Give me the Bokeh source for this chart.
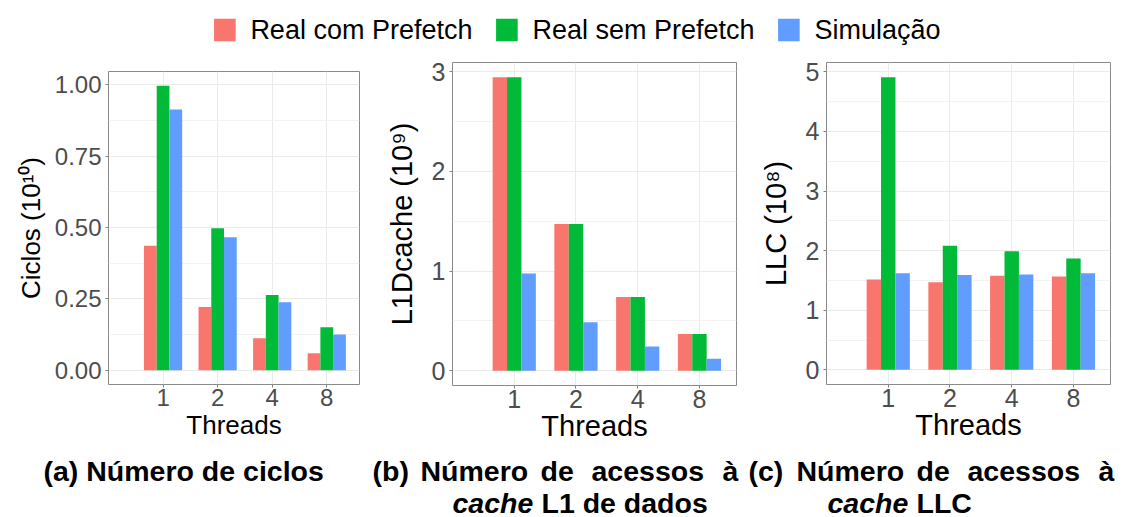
from bokeh.plotting import figure
from bokeh.layouts import column, row
from bokeh.models import Range1d, FixedTicker, PrintfTickFormatter, Legend, LegendItem
from bokeh.core.properties import value
from bokeh.embed import file_html
from bokeh.resources import INLINE

# ---------------- data ----------------
threads = ["1", "2", "4", "8"]
series = ["Real com Prefetch", "Real sem Prefetch", "Simulação"]
colors = ["#F8766D", "#00BA38", "#619CFF"]

ciclos_com = [0.436, 0.222, 0.112, 0.060]
ciclos_sem = [0.997, 0.498, 0.264, 0.151]
ciclos_sim = [0.914, 0.466, 0.238, 0.125]

l1_com = [2.945, 1.473, 0.740, 0.370]
l1_sem = [2.945, 1.473, 0.740, 0.370]
l1_sim = [0.977, 0.487, 0.243, 0.120]

llc_com = [1.516, 1.470, 1.580, 1.567]
llc_sem = [4.910, 2.080, 1.990, 1.870]
llc_sim = [1.620, 1.590, 1.600, 1.620]

ticks_a = [0, 0.25, 0.5, 0.75, 1.0]
minor_a = [0.125, 0.375, 0.625, 0.875]
ticks_b = [0, 1, 2, 3]
minor_b = [0.5, 1.5, 2.5]
ticks_c = [0, 1, 2, 3, 4, 5]
minor_c = [0.5, 1.5, 2.5, 3.5, 4.5]

FONT = "Liberation Sans"
POS = list(range(1, len(threads) + 1))
BW = 0.7 / len(series)


def panel(vals, ylabel, yticks, yminor, fmt, width, height, bl, br, bt, bb,
          tick_fs, title_fs, x_title_standoff, y_title_standoff):
    ymax = max(max(v) for v in vals)
    pad = 0.05 * ymax
    p = figure(width=width, height=height, x_range=Range1d(0, 4.6),
               y_range=Range1d(-pad, ymax + pad), title=None,
               output_backend="svg", toolbar_location=None,
               min_border_left=bl, min_border_right=br,
               min_border_top=bt, min_border_bottom=bb)
    for k, (v, c) in enumerate(zip(vals, colors)):
        xs = [x + (k - 1) * BW for x in POS]
        p.vbar(x=xs, top=v, bottom=0, width=BW, fill_color=c, line_color=None)
    p.xaxis.ticker = FixedTicker(ticks=POS)
    p.xaxis.major_label_overrides = {i: t for i, t in zip(POS, threads)}
    p.xaxis.axis_label = "Threads"
    p.yaxis.ticker = FixedTicker(ticks=yticks, minor_ticks=yminor)
    p.yaxis.formatter = PrintfTickFormatter(format=fmt)
    p.yaxis.axis_label = ylabel
    for ax in p.axis:
        ax.axis_line_color = None
        ax.major_tick_line_color = "#7F7F7F"
        ax.major_tick_out = 3
        ax.major_tick_in = 0
        ax.minor_tick_line_color = None
        ax.major_label_text_font = FONT
        ax.major_label_text_font_size = f"{tick_fs}px"
        ax.major_label_text_color = "#4D4D4D"
        ax.axis_label_text_font = FONT
        ax.axis_label_text_font_style = "normal"
        ax.axis_label_text_font_size = f"{title_fs}px"
        ax.axis_label_text_color = "black"
    p.xaxis.major_label_standoff = 1
    p.yaxis.major_label_standoff = 3
    p.xaxis.axis_label_standoff = x_title_standoff
    p.yaxis.axis_label_standoff = y_title_standoff
    p.xgrid.grid_line_color = "#EBEBEB"
    p.ygrid.grid_line_color = "#EBEBEB"
    p.ygrid.minor_grid_line_color = "#F3F3F3"
    p.outline_line_color = "#8A8A8A"
    p.outline_line_width = 1
    p.background_fill_color = "white"
    p.border_fill_color = "white"
    return p


PH = 397
p1 = panel([ciclos_com, ciclos_sem, ciclos_sim], "Ciclos (10¹⁰)", ticks_a, minor_a, "%.2f",
           380, PH, 108, 21, 19, 65, 24, 26, 1, 6)
p2 = panel([l1_com, l1_sem, l1_sim], "L1Dcache (10⁹)", ticks_b, minor_b, "%d",
           372, PH, 72, 16, 10, 64, 25, 29, -1, 11)
p3 = panel([llc_com, llc_sem, llc_sim], "LLC (10⁸)", ticks_c, minor_c, "%d",
           372, PH, 74, 14, 10, 65, 25, 29, -1, 11)

# ---------------- legend ----------------
lf = figure(width=1124, height=52, x_range=Range1d(-101, -100), y_range=Range1d(0, 1),
            title=None, output_backend="svg", toolbar_location=None,
            x_axis_location=None, y_axis_location=None,
            min_border_left=27, min_border_right=0, min_border_top=7, min_border_bottom=0)
lf.grid.visible = False
lf.outline_line_color = None
items = []
for k, (s, c, v) in enumerate(zip(series, colors, [ciclos_com, ciclos_sem, ciclos_sim])):
    xs = [x + (k - 1) * BW for x in POS]
    r = lf.vbar(x=xs, top=v, width=BW, fill_color=c, line_color=None)
    items.append(LegendItem(label=s, renderers=[r]))
leg = Legend(items=items, orientation="horizontal", location="center",
             glyph_width=27, glyph_height=28, label_standoff=13, spacing=20,
             padding=0, margin=0, border_line_color=None, background_fill_alpha=0,
             label_text_font=FONT, label_text_font_size="27px", label_height=28,
             label_text_color="black")
lf.add_layout(leg)

# ---------------- captions ----------------
CH = 68
cf = figure(width=1124, height=CH, x_range=Range1d(0, 1124), y_range=Range1d(CH, 0),
            title=None, output_backend="svg", toolbar_location=None,
            x_axis_location=None, y_axis_location=None,
            min_border_left=0, min_border_right=0, min_border_top=0, min_border_bottom=0)
cf.grid.visible = False
cf.outline_line_color = None

LINE1_Y = 21
LINE2_Y = 53
cap_line1_words = ["(a) Número de ciclos",
                   "(b)", "Número", "de", "acessos", "à",
                   "(c)", "Número", "de", "acessos", "à"]
cap_line1_x = [43, 372, 420, 540, 591, 722, 748, 796, 916, 967, 1098]
cf.text(x=cap_line1_x, y=[LINE1_Y] * len(cap_line1_x), text=cap_line1_words,
        text_font=value(FONT), text_font_style="bold", text_font_size="28.5px",
        text_baseline="alphabetic", text_align="left", text_color="black")
cf.text(x=[452, 827], y=[LINE2_Y, LINE2_Y], text=["cache", "cache"],
        text_font=value(FONT), text_font_style="bold italic", text_font_size="28.5px",
        text_baseline="alphabetic", text_align="left", text_color="black")
cf.text(x=[541, 916], y=[LINE2_Y, LINE2_Y], text=["L1 de dados", "LLC"],
        text_font=value(FONT), text_font_style="bold", text_font_size="28.5px",
        text_baseline="alphabetic", text_align="left", text_color="black")

layout = column(column(lf), row(column(p1), column(p2), column(p3)), column(cf))
open("out.html", "w").write(file_html(layout, INLINE))
